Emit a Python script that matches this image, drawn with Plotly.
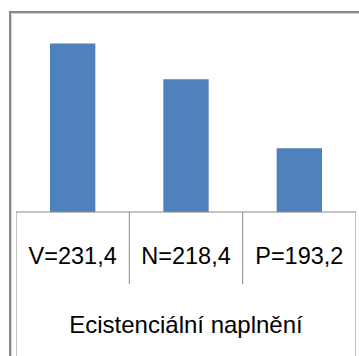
import plotly.graph_objects as go

# Category labels and their mean scores
categories = ["V=231,4", "N=218,4", "P=193,2"]
values = [231.4, 218.4, 193.2]
axis_title = "Ecistenciální naplnění"
y_range = [170, 240]

W, H = 359, 356
ML, MR, MT, MB = 16, 3, 20, 144
PW, PH = W - ML - MR, H - MT - MB


def px_x(px):
    return (px - ML) / PW


def px_y(py):
    return (H - MB - py) / PH


FONT = "Liberation Sans, Arial, sans-serif"
GRID = "#878787"

fig = go.Figure(
    go.Bar(
        x=list(range(len(categories))),
        y=values,
        width=0.4,
        marker=dict(color="#4F81BD", line=dict(width=0)),
        hoverinfo="skip",
    )
)

shapes = []
# outer chart frame
shapes.append(dict(type="rect", xref="paper", yref="paper",
                   x0=px_x(10), x1=px_x(380), y0=px_y(380), y1=px_y(12),
                   line=dict(color="#8a8a8a", width=2), layer="above"))
shapes.append(dict(type="rect", xref="paper", yref="paper",
                   x0=px_x(11.5), x1=px_x(380), y0=px_y(380), y1=px_y(13.5),
                   line=dict(color="#d4d4d4", width=1), layer="above"))
# category axis line
shapes.append(dict(type="line", xref="x", yref="paper",
                   x0=-0.5, x1=len(categories) - 0.5, y0=0, y1=0,
                   line=dict(color=GRID, width=1)))
# category dividers: outer ones run down past the title, inner ones stop below labels
for i in range(len(categories) + 1):
    edge = i in (0, len(categories))
    shapes.append(dict(type="line", xref="x", yref="paper",
                       x0=i - 0.5, x1=i - 0.5,
                       y0=px_y(380) if edge else px_y(284), y1=0,
                       line=dict(color=GRID, width=1)))

fig.update_layout(
    width=W, height=H,
    margin=dict(l=ML, r=MR, t=MT, b=MB),
    paper_bgcolor="white", plot_bgcolor="white",
    showlegend=False,
    shapes=shapes,
    font=dict(family=FONT, color="#000000"),
    xaxis=dict(
        range=[-0.5, len(categories) - 0.5],
        tickvals=list(range(len(categories))),
        ticktext=categories,
        tickfont=dict(size=23.5, family=FONT, color="#000000"),
        ticks="", showgrid=False, zeroline=False, showline=False,
        ticklabelstandoff=27,
        title=dict(text=axis_title, font=dict(size=24, family=FONT, color="#000000"),
                   standoff=48),
    ),
    yaxis=dict(range=y_range, visible=False, showgrid=False, zeroline=False),
)

fig.write_html("out.html")
